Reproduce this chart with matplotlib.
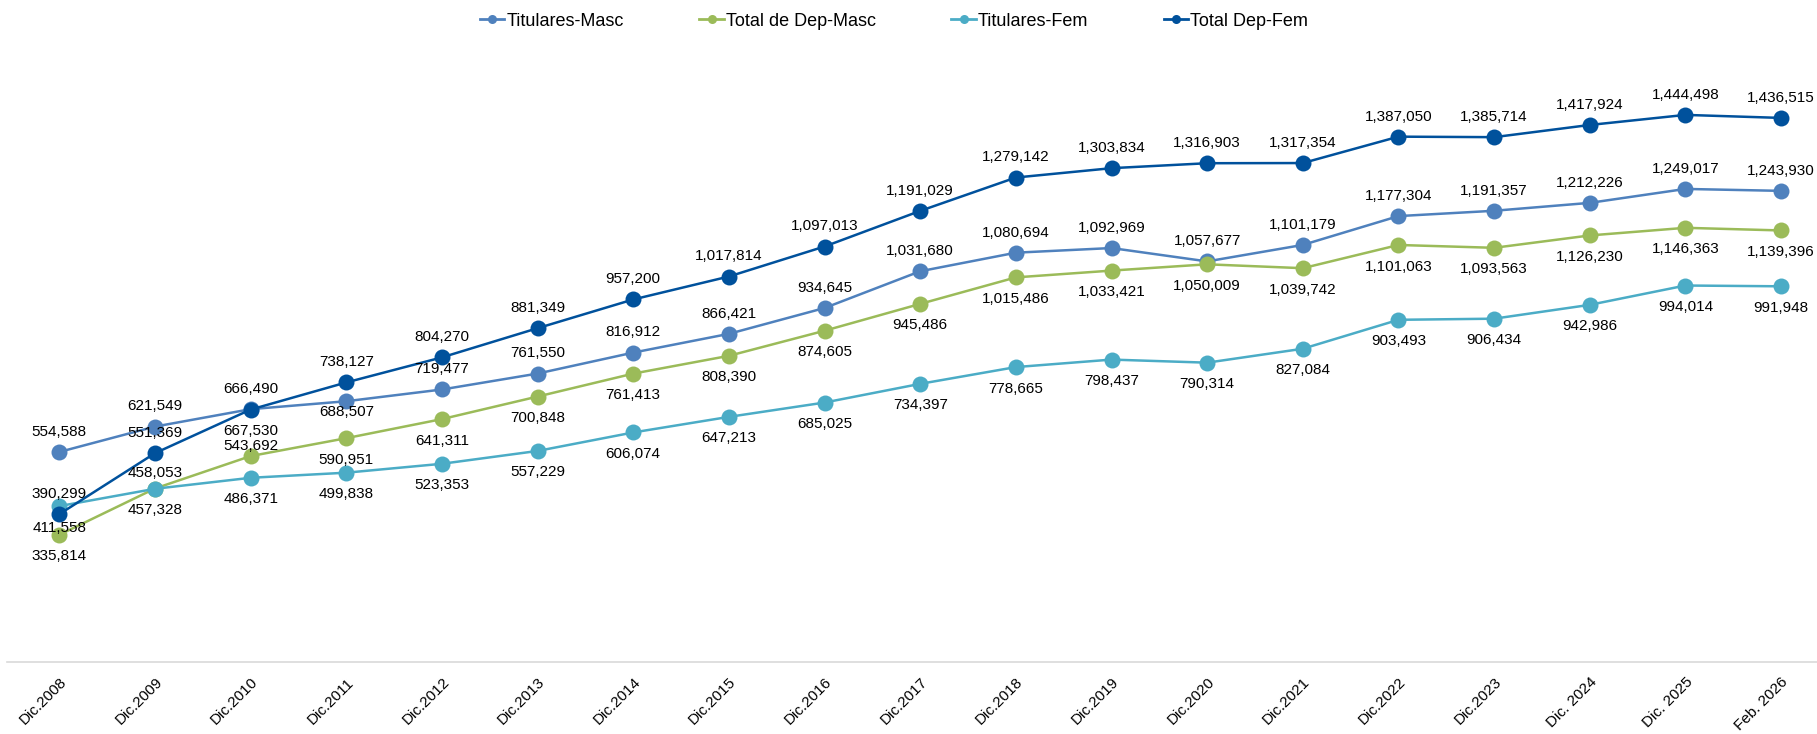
import matplotlib
matplotlib.use("Agg")
import matplotlib.pyplot as plt
import matplotlib.transforms as mtransforms
from matplotlib.lines import Line2D

plt.rcParams['font.family'] = ['Liberation Sans', 'DejaVu Sans']

categories = ["Dic.2008", "Dic.2009", "Dic.2010", "Dic.2011", "Dic.2012", "Dic.2013",
              "Dic.2014", "Dic.2015", "Dic.2016", "Dic.2017", "Dic.2018", "Dic.2019",
              "Dic.2020", "Dic.2021", "Dic.2022", "Dic.2023", "Dic. 2024", "Dic. 2025",
              "Feb. 2026"]

titulares_masc = [554588, 621549, 667530, 688507, 719477, 761550, 816912, 866421, 934645,
                  1031680, 1080694, 1092969, 1057677, 1101179, 1177304, 1191357, 1212226,
                  1249017, 1243930]
total_dep_masc = [335814, 458053, 543692, 590951, 641311, 700848, 761413, 808390, 874605,
                  945486, 1015486, 1033421, 1050009, 1039742, 1101063, 1093563, 1126230,
                  1146363, 1139396]
titulares_fem = [411558, 457328, 486371, 499838, 523353, 557229, 606074, 647213, 685025,
                 734397, 778665, 798437, 790314, 827084, 903493, 906434, 942986, 994014,
                 991948]
total_dep_fem = [390299, 551369, 666490, 738127, 804270, 881349, 957200, 1017814, 1097013,
                 1191029, 1279142, 1303834, 1316903, 1317354, 1387050, 1385714, 1417924,
                 1444498, 1436515]

series = [
    ("Titulares-Masc", titulares_masc, "#4F81BD"),
    ("Total de Dep-Masc", total_dep_masc, "#9BBB59"),
    ("Titulares-Fem", titulares_fem, "#4BACC6"),
    ("Total Dep-Fem", total_dep_fem, "#00519C"),
]

# label vertical offsets in points (positive = above)
UP, DN = 14.5, -15.5
offsets = {
    "Titulares-Masc": [UP, UP, DN, -8] + [UP] * 15,
    "Total de Dep-Masc": [DN, 11, 7] + [DN] * 16,
    "Titulares-Fem": [DN] * 19,
    "Total Dep-Fem": [UP] * 19,
}

W, H = 1817, 734
fig = plt.figure(figsize=(W / 100, H / 100), dpi=100)
ax_left = 11.5 / W
ax_width = 1817.4 / W
ax_bottom = (H - 662) / H
ax_height = 606 / H
ax = fig.add_axes([ax_left, ax_bottom, ax_width, ax_height])

x = list(range(len(categories)))
for name, vals, color in series:
    ax.plot(x, vals, color=color, lw=1.8, marker='o', markersize=11.5,
            markeredgewidth=0, label=name, zorder=3, solid_capstyle='round')
    for xi, v, off in zip(x, vals, offsets[name]):
        ax.annotate(f"{v:,}", (xi, v), xytext=(0, off), textcoords='offset points',
                    ha='center', va='center', fontsize=11, color='#000000', zorder=10)

ax.set_xlim(-0.5, len(categories) - 0.5)
ax.set_ylim(0, 1600000)
ax.set_yticks([])
for s in ['top', 'right', 'left']:
    ax.spines[s].set_visible(False)
ax.spines['bottom'].set_color('#D9D9D9')
ax.spines['bottom'].set_linewidth(1.2)
ax.spines['bottom'].set_bounds(-0.5 + (7 - 11.5) / 95.65, len(categories) - 0.5)

ax.set_xticks(x)
ax.set_xticklabels(categories, fontsize=11)
ax.tick_params(axis='x', length=0, pad=13)
shift = mtransforms.ScaledTranslation(5 / 100, 0, fig.dpi_scale_trans)
for lbl in ax.get_xticklabels():
    lbl.set_rotation(45)
    lbl.set_ha('right')
    lbl.set_va('center')
    lbl.set_rotation_mode('anchor')
    lbl.set_transform(lbl.get_transform() + shift)

leg_handles = [Line2D([0], [0], color=c, lw=2.0, marker='o', markersize=6.5, markeredgewidth=0)
               for _, _, c in series]
fig.legend(leg_handles, [s[0] for s in series], loc='center', bbox_to_anchor=(894 / W, 1 - 21 / H),
           ncol=4, frameon=False, fontsize=13, handlelength=1.35, handletextpad=0.1,
           columnspacing=4.2)

fig.savefig("out.png", dpi=100)
